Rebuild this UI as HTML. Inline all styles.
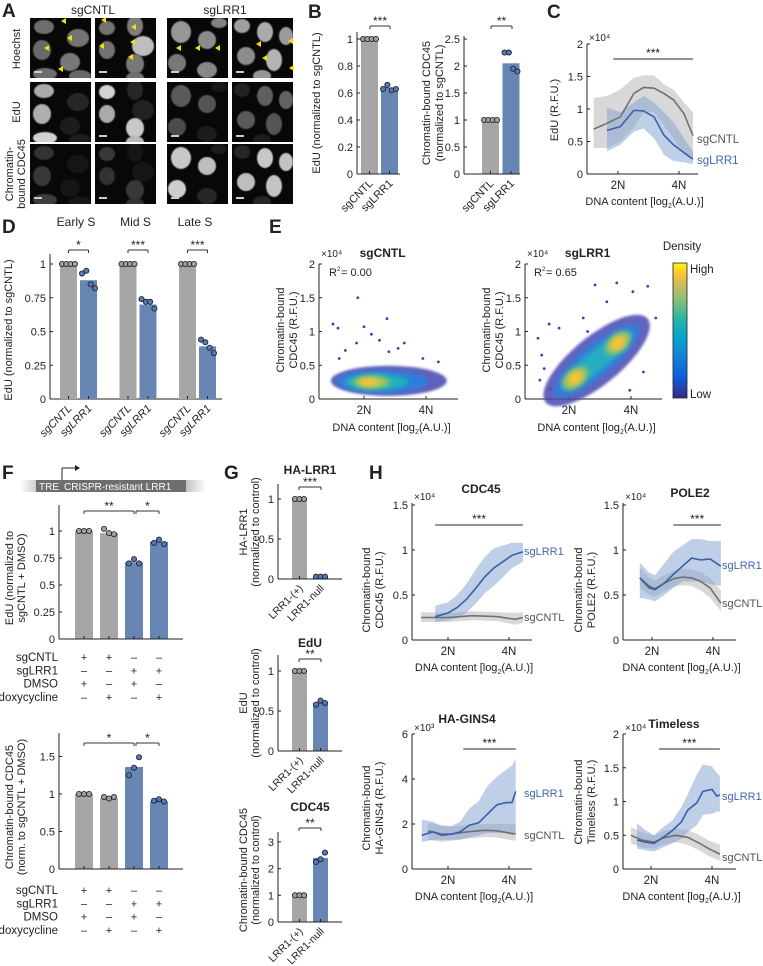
<!DOCTYPE html>
<html><head><meta charset="utf-8">
<style>
html,body{margin:0;padding:0;background:#fff;}
svg{display:block;font-family:"Liberation Sans",Arial,sans-serif;}
</style></head>
<body>
<svg id="fig" width="763" height="966" viewBox="0 0 763 966" xmlns="http://www.w3.org/2000/svg">
<defs>
<filter id="blur2" x="-50%" y="-50%" width="200%" height="200%"><feGaussianBlur stdDeviation="2.5"/></filter>
<filter id="blur4" x="-50%" y="-50%" width="200%" height="200%"><feGaussianBlur stdDeviation="4"/></filter>
<filter id="blur1" x="-50%" y="-50%" width="200%" height="200%"><feGaussianBlur stdDeviation="1.2"/></filter>
<filter id="blur05" x="-50%" y="-50%" width="200%" height="200%"><feGaussianBlur stdDeviation="0.6"/></filter>
<linearGradient id="parula" x1="0" y1="1" x2="0" y2="0">
<stop offset="0" stop-color="#352a87"/><stop offset="0.15" stop-color="#0f5cdd"/><stop offset="0.3" stop-color="#1481d6"/><stop offset="0.45" stop-color="#06a4ca"/><stop offset="0.6" stop-color="#2eb7a4"/><stop offset="0.72" stop-color="#87bf77"/><stop offset="0.85" stop-color="#d1bb59"/><stop offset="0.93" stop-color="#fec832"/><stop offset="1" stop-color="#f9fb0e"/>
</linearGradient>
<linearGradient id="treg" x1="0" x2="1"><stop offset="0" stop-color="#fff"/><stop offset="0.12" stop-color="#bbb"/><stop offset="0.88" stop-color="#bbb"/><stop offset="1" stop-color="#fff"/></linearGradient>
</defs>
</svg>
<script>
// ---------------- DATA ----------------
const bCats = ['sgCNTL','sgLRR1'];
const b1Vals = [1, 0.64];
const b1Dots = [[1,1,1,1],[0.63,0.66,0.62,0.63]];
const b1Ticks = [0,0.2,0.4,0.6,0.8,1];
const b2Vals = [1, 2.05];
const b2Dots = [[1,1,1,1],[2.25,2.25,1.95,1.9]];
const b2Ticks = [0,0.5,1,1.5,2,2.5];

const cX = [0.6,0.82,1.04,1.26,1.42,1.59,1.75,1.91,2.08,2.23];
const cGray = [0.69,0.78,0.88,1.24,1.33,1.32,1.24,1.14,0.93,0.59];
const cGrayHi = [1.17,1.2,1.3,1.48,1.52,1.52,1.38,1.3,1.1,0.95];
const cGrayLo = [0.4,0.4,0.5,0.72,0.95,0.95,0.75,0.55,0.3,0.22];
const cBX = [0.82,1.04,1.26,1.42,1.59,1.75,1.91,2.08,2.23];
const cBlue = [0.67,0.73,0.98,0.97,0.88,0.6,0.45,0.33,0.23];
const cBlueHi = [1.02,0.95,1.1,1.2,1.1,0.95,0.8,0.55,0.35];
const cBlueLo = [0.35,0.45,0.65,0.7,0.55,0.3,0.2,0.18,0.15];
const cTicks = [0,0.5,1,1.5,2];

const dGroups = ['Early S','Mid S','Late S'];
const dSig = ['*','***','***'];
const dVals = [[1,0.88],[1,0.70],[1,0.39]];
const dDots = [[[1,1,1,1],[0.93,0.95,0.85,0.82]],[[1,1,1,1],[0.74,0.72,0.72,0.67]],[[1,1,1,1],[0.44,0.42,0.38,0.34]]];
const dTicks = [0,0.25,0.5,0.75,1];

const e1Out = [[0.5,1.11],[0.58,1.05],[0.9,1.5],[1.0,1.07],[1.12,0.96],[1.37,1.19],[1.25,0.87],[1.65,0.83],[0.88,0.83],[0.7,0.72],[1.55,0.75],[1.95,0.6],[2.2,0.55],[0.6,0.6],[1.4,0.7]];
const e1Blob = [[1.4,0.27],[1.3,0.26],[1.2,0.25],[1.12,0.25],[1.08,0.25]];
const e2Out = [[0.5,0.9],[0.68,1.11],[0.84,1.05],[0.56,0.65],[1.23,1.2],[1.42,1.69],[1.77,1.72],[2.27,1.67],[2.03,1.59],[1.61,1.44],[0.53,0.28],[1.98,0.13],[0.6,0.45],[1.3,1.0],[2.4,1.2],[2.2,0.4],[0.7,0.15]];
const e2Blob1 = [1.1,0.31];
const e2Blob2 = [1.79,0.83];
const eTicks = [0,0.5,1,1.5,2];

const fCats = ['sgCNTL','sgLRR1','DMSO','doxycycline'];
const fSigns = [['+','+','–','–'],['–','–','+','+'],['+','–','+','–'],['–','+','–','+']];
const f1Vals = [1,0.98,0.71,0.9];
const f1Dots = [[1,1,1],[1.02,0.98,0.97],[0.7,0.74,0.7],[0.89,0.92,0.88]];
const f1Ticks = [0,0.25,0.5,0.75,1];
const f2Vals = [1,0.94,1.36,0.9];
const f2Dots = [[1,1,1],[0.96,0.94,0.96],[1.25,1.35,1.49],[0.91,0.93,0.9]];
const f2Ticks = [0,0.5,1,1.5];

const gCats = ['LRR1-(+)','LRR1-null'];
const g1Vals = [1,0.03]; const g1Dots = [[1,1,1],[0.03,0.03,0.03]]; const g1Ticks=[0,0.5,1];
const g2Vals = [1,0.6]; const g2Dots = [[1,1,1],[0.58,0.63,0.6]]; const g2Ticks=[0,0.5,1];
const g3Vals = [1,2.4]; const g3Dots = [[1,1,1],[2.25,2.35,2.6]]; const g3Ticks=[0,1,2,3];

const h1BX=[0.79,1.0,1.15,1.3,1.45,1.6,1.75,1.9,2.05,2.23];
const h1Blue=[0.26,0.3,0.36,0.45,0.57,0.7,0.8,0.87,0.94,0.98];
const h1BlueHi=[0.38,0.42,0.5,0.62,0.78,0.92,1.02,1.05,1.08,1.08];
const h1BlueLo=[0.2,0.22,0.24,0.3,0.4,0.52,0.6,0.7,0.8,0.87];
const h1GX=[0.56,1.0,1.4,1.8,2.1,2.23];
const h1Gray=[0.25,0.25,0.27,0.26,0.23,0.25];
const h1GrayHi=[0.31,0.3,0.32,0.31,0.3,0.31];
const h1GrayLo=[0.2,0.2,0.22,0.21,0.17,0.19];
const h1Ticks=[0,0.5,1,1.5];

const h2X=[0.8,0.95,1.05,1.2,1.35,1.5,1.65,1.8,1.95,2.13];
const h2Blue=[0.69,0.58,0.56,0.63,0.73,0.82,0.91,0.89,0.9,0.82];
const h2BlueHi=[0.86,0.75,0.72,0.85,0.98,1.05,1.12,1.12,1.1,1.1];
const h2BlueLo=[0.47,0.45,0.43,0.5,0.58,0.65,0.65,0.65,0.62,0.6];
const h2Gray=[0.69,0.6,0.57,0.63,0.68,0.7,0.69,0.65,0.58,0.41];
const h2GrayHi=[0.8,0.7,0.66,0.72,0.77,0.79,0.78,0.75,0.69,0.55];
const h2GrayLo=[0.58,0.5,0.48,0.54,0.59,0.61,0.6,0.55,0.47,0.32];
const h2Ticks=[0,0.5,1,1.5];

const h3BX=[0.57,0.75,0.9,1.05,1.2,1.35,1.5,1.65,1.8,1.95,2.05,2.11];
const h3Blue=[1.5,1.65,1.5,1.55,1.65,1.95,2.05,2.45,2.85,2.95,2.95,3.45];
const h3BlueHi=[2.2,2.1,1.9,1.9,2.1,2.7,3.0,3.7,4.1,4.4,4.6,4.9];
const h3BlueLo=[1.2,1.3,1.3,1.3,1.3,1.4,1.5,1.6,1.6,1.6,1.5,1.6];
const h3GX=[0.67,0.9,1.05,1.3,1.6,1.8,2.0,2.11];
const h3Gray=[1.7,1.55,1.55,1.65,1.72,1.7,1.6,1.55];
const h3GrayHi=[2.05,1.95,1.9,1.95,2.0,2.0,2.0,2.0];
const h3GrayLo=[1.3,1.2,1.25,1.35,1.42,1.4,1.3,1.25];
const h3Ticks=[0,2,4,6];

const h4BX=[0.77,0.9,1.05,1.2,1.35,1.5,1.6,1.75,1.85,2.0,2.08,2.13];
const h4Blue=[0.43,0.4,0.38,0.47,0.57,0.7,0.87,0.98,1.15,1.18,1.08,1.1];
const h4BlueHi=[0.68,0.58,0.5,0.62,0.72,0.92,1.1,1.4,1.55,1.52,1.42,1.38];
const h4BlueLo=[0.3,0.28,0.26,0.32,0.38,0.45,0.55,0.65,0.8,0.82,0.85,0.85];
const h4GX=[0.67,0.85,1.05,1.2,1.4,1.6,1.8,1.95,2.13];
const h4Gray=[0.5,0.43,0.4,0.46,0.5,0.47,0.38,0.3,0.22];
const h4GrayHi=[0.62,0.54,0.5,0.56,0.6,0.58,0.5,0.42,0.36];
const h4GrayLo=[0.38,0.32,0.3,0.36,0.4,0.36,0.27,0.19,0.12];
const h4Ticks=[0,0.5,1,1.5,2];

// ---------------- HELPERS ----------------
const NS='http://www.w3.org/2000/svg';
const svg=document.getElementById('fig');
const GRAYBAR='#a6a6a6', BLUEBAR='#6886b4', BLUELINE='#3a5fa8', GRAYLINE='#707070';
function mk(tag,attrs,parent){const e=document.createElementNS(NS,tag);for(const k in attrs)e.setAttribute(k,attrs[k]);(parent||svg).appendChild(e);return e;}
function T(x,y,s,size,opts){opts=opts||{};const e=mk('text',{x:x,y:y,'font-size':size,'text-anchor':opts.anchor||'start',fill:opts.fill||'#222','font-weight':opts.bold?'bold':'normal'},opts.parent);if(opts.rot!==undefined)e.setAttribute('transform','rotate('+opts.rot+' '+x+' '+y+')');if(opts.italic)e.setAttribute('font-style','italic');e.textContent=s;

return e;}
function L(x1,y1,x2,y2,stroke,w,name){const e=mk('line',{x1:x1,y1:y1,x2:x2,y2:y2,stroke:stroke||'#222','stroke-width':w||1});

return e;}
function panelLetter(x,y,s){T(x,y,s,19,{bold:true,name:'panel-label-'+s.toLowerCase()});}
function yAxis(ax,y0,top,ppu,ticks,name,fmt){
  L(ax,top,ax,y0,'#222',1,name+'-y-axis');
  ticks.forEach(t=>{const y=y0-t*ppu;L(ax,y,ax+3,y,'#222',1,name+'-y-tick');T(ax-4,y+4,fmt?fmt(t):String(t),11,{anchor:'end',name:name+'-y-tick-label'});});
}
function bracket(x1,x2,y,s,name){
  L(x1,y,x2,y,'#333',1,name+'-bracket');L(x1,y,x1,y+3,'#333',1,name+'-bracket');L(x2,y,x2,y+3,'#333',1,name+'-bracket');
  T((x1+x2)/2,y-1,s,12,{anchor:'middle',name:name+'-significance'});
}
function dot(x,y,blue,name){const c=mk('circle',{cx:x,cy:y,r:2.6,fill:blue?'#5579b8':'#a0a0a0',stroke:'#1a1a1a','stroke-width':0.8});
}
function barChart(cfg){
  const sy=v=>cfg.y0-v*cfg.ppu;
  cfg.vals.forEach((v,i)=>{
    const cx=cfg.cx0+i*cfg.step;const blue=cfg.blue[i];
    const r=mk('rect',{x:cx-cfg.w/2,y:sy(v),width:cfg.w,height:cfg.y0-sy(v),fill:blue?BLUEBAR:GRAYBAR});
    
    
    L(cx,cfg.y0,cx,cfg.y0-3,'#222',1,cfg.name+'-x-tick');
    const ds=cfg.dots[i];const n=ds.length;
    ds.forEach((d,j)=>{dot(cx+(j-(n-1)/2)*cfg.dsp,sy(d),blue,cfg.name+'-dot');});
  });
  L(cfg.ax,cfg.y0,cfg.right,cfg.y0,'#222',1,cfg.name+'-x-axis');
  yAxis(cfg.ax,cfg.y0,cfg.top,cfg.ppu,cfg.ticks,cfg.name,cfg.fmt);
  if(cfg.cats){cfg.cats.forEach((c,i)=>{const cx=cfg.cx0+i*cfg.step;T(cx+4,cfg.y0+10,c,cfg.catSize||11,{anchor:'end',rot:-45,italic:cfg.italic,name:cfg.name+'-x-label'});});}
  return sy;
}
function bandPath(xs,hi,lo,sx,sy){let d='';xs.forEach((x,i)=>{d+=(i?'L':'M')+sx(x).toFixed(1)+','+sy(hi[i]).toFixed(1);});for(let i=xs.length-1;i>=0;i--)d+='L'+sx(xs[i]).toFixed(1)+','+sy(lo[i]).toFixed(1);return d+'Z';}
function linePath(xs,ys,sx,sy){return xs.map((x,i)=>(i?'L':'M')+sx(x).toFixed(1)+','+sy(ys[i]).toFixed(1)).join('');}
function xTitle(x,y,name){
  const xt=T(x,y,'DNA content [log',11,{anchor:'middle',name:name+'-x-axis-title'});
  const ts=document.createElementNS(NS,'tspan');ts.setAttribute('font-size','7');ts.setAttribute('dy','3');ts.textContent='2';xt.appendChild(ts);
  const ts2=document.createElementNS(NS,'tspan');ts2.setAttribute('dy','-3');ts2.textContent='(A.U.)]';xt.appendChild(ts2);
}
function lineChart(cfg){
  const sx=u=>cfg.n2+(u-1)*cfg.upx, sy=v=>cfg.y0-v*cfg.ppu;
  const gb=mk('path',{d:bandPath(cfg.gx,cfg.ghi,cfg.glo,sx,sy),fill:'#b8b8b8','fill-opacity':0.55});
  
  
  const bb=mk('path',{d:bandPath(cfg.bx,cfg.bhi,cfg.blo,sx,sy),fill:'#7f9fd0','fill-opacity':0.5});
  
  
  const gl=mk('path',{d:linePath(cfg.gx,cfg.g,sx,sy),fill:'none',stroke:GRAYLINE,'stroke-width':1.6});
  
  
  const bl=mk('path',{d:linePath(cfg.bx,cfg.b,sx,sy),fill:'none',stroke:BLUELINE,'stroke-width':1.6});
  
  
  L(cfg.ax,cfg.y0,cfg.right,cfg.y0,'#222',1,cfg.name+'-x-axis');
  [1,2].forEach((u,i)=>{L(sx(u),cfg.y0,sx(u),cfg.y0-3,'#222',1,cfg.name+'-x-tick');T(sx(u),cfg.y0+15,['2N','4N'][i],11.5,{anchor:'middle',name:cfg.name+'-x-tick-label'});});
  yAxis(cfg.ax,cfg.y0,cfg.top,cfg.ppu,cfg.ticks,cfg.name);
  xTitle((cfg.ax+cfg.right)/2+2,cfg.y0+31,cfg.name);
  if(cfg.exp)T(cfg.ax+2,cfg.top-3,cfg.exp,10,{name:cfg.name+'-exponent'});
  if(cfg.sig){L(sx(cfg.sig[0]),cfg.sigY,sx(cfg.sig[1]),cfg.sigY,'#555',1.2,cfg.name+'-significance-bar');T((sx(cfg.sig[0])+sx(cfg.sig[1]))/2,cfg.sigY-2,'***',12,{anchor:'middle',name:cfg.name+'-significance'});}
  T(cfg.lblX,cfg.lblB,'sgLRR1',cfg.lblSize||11.5,{fill:'#3f66b0',name:cfg.name+'-legend-sglrr1'});
  T(cfg.lblX,cfg.lblG,'sgCNTL',cfg.lblSize||11.5,{fill:'#555',name:cfg.name+'-legend-sgcntl'});
  return {sx,sy};
}

// ---------------- PANEL A ----------------
panelLetter(2,17,'A');
T(93,14,'sgCNTL',12,{anchor:'middle',name:'a-sgcntl-header'});
T(225,14,'sgLRR1',12,{anchor:'middle',name:'a-sglrr1-header'});
T(20,49,'Hoechst',11,{anchor:'middle',rot:-90,name:'a-row-hoechst'});
T(20,112,'EdU',11,{anchor:'middle',rot:-90,name:'a-row-edu'});
T(13,174,'Chromatin-',11,{anchor:'middle',rot:-90,name:'a-row-cdc45'});
T(25,174,'bound CDC45',11,{anchor:'middle',rot:-90,name:'a-row-cdc45'});
const tileX=[30,95,167,232], tileY=[18,82,144];
const nuclei=[
 [[14,9,10,7],[48,20,11,9],[12,32,9,10],[40,44,10,9],[15,56,12,6],[50,58,11,6]],
 [[12,10,8,7],[40,8,8,10],[48,28,11,10],[12,32,8,9],[40,46,9,10],[40,60,9,6]],
 [[14,14,10,11],[40,22,9,9],[10,45,9,9],[40,52,10,8],[52,5,8,5]],
 [[10,8,8,7],[33,14,8,10],[54,18,7,9],[14,38,9,9],[42,42,8,11],[30,58,9,6]]];
const bright=[[[110,115,105,120,110,105],[115,125,190,115,120,110],[150,140,120,135,130],[160,170,155,140,180,150]],
 [[170,40,175,30,210,30],[210,40,35,170,200,185],[90,85,75,30,20],[35,95,100,90,85,30]],
 [[50,25,55,25,60,25],[55,25,25,50,55,50],[200,190,205,40,30],[40,200,195,190,195,40]]];
tileY.forEach((ty,r)=>tileX.forEach((tx,c)=>{
  const g=mk('g',{});
  
  
  mk('rect',{x:tx,y:ty,width:61,height:60,fill:'#080808'},g);
  const cp=mk('clipPath',{id:'cp'+r+c},g);mk('rect',{x:tx,y:ty,width:61,height:60},cp);
  const gg=mk('g',{'clip-path':'url(#cp'+r+c+')'},g);
  nuclei[c].forEach((n,k)=>{const b=bright[r][c][k];mk('ellipse',{cx:tx+n[0],cy:ty+n[1],rx:n[2],ry:n[3],fill:'rgb('+b+','+b+','+b+')',filter:'url(#blur05)'},gg);});
  mk('rect',{x:tx+4,y:ty+53,width:8,height:2,fill:'#ccc'},g);
}));
const arrows=[[61,21],[67,38],[44,48],[58,69],[101,20],[131,27],[99,46],[130,42],[128,57],[176,48],[195,48],[215,48],[256,44],[262,58],[288,41],[289,68]];
arrows.forEach(a=>{const p=mk('polygon',{points:(a[0])+','+(a[1])+' '+(a[0]+5)+','+(a[1]-3)+' '+(a[0]+5)+','+(a[1]+3),fill:'#f5e100'});
});

// ---------------- PANEL B ----------------
panelLetter(308,18,'B');
barChart({name:'b-edu',vals:b1Vals,dots:b1Dots,blue:[0,1],cx0:369.5,step:20,w:17,dsp:4.3,ax:357,right:400,y0:174,top:32,ppu:135,ticks:b1Ticks,cats:bCats});
bracket(370,390,26,'***','b-edu');
T(320,103,'EdU (normalized to sgCNTL)',11,{anchor:'middle',rot:-90,name:'b-edu-y-axis-title'});
barChart({name:'b-cdc45',vals:b2Vals,dots:b2Dots,blue:[0,1],cx0:490.5,step:20.5,w:17,dsp:4.3,ax:464,right:520,y0:174,top:36,ppu:54,ticks:b2Ticks,cats:bCats});
bracket(491,512,26,'**','b-cdc45');
T(430,103,'Chromatin-bound CDC45',11,{anchor:'middle',rot:-90,name:'b-cdc45-y-axis-title'});
T(443,103,'(normalized to sgCNTL)',11,{anchor:'middle',rot:-90,name:'b-cdc45-y-axis-title'});

// ---------------- PANEL C ----------------
panelLetter(547,18,'C');
lineChart({name:'c-edu',n2:618,upx:61,y0:174,ppu:65,ax:587,right:698,top:44,ticks:cTicks,
 gx:cX,g:cGray,ghi:cGrayHi,glo:cGrayLo,bx:cBX,b:cBlue,bhi:cBlueHi,blo:cBlueLo,
 exp:'×10⁴',sig:[0.92,2.23],sigY:59,lblX:697,lblB:164,lblG:143});
T(558,110,'EdU (R.F.U.)',11,{anchor:'middle',rot:-90,name:'c-y-axis-title'});

// ---------------- PANEL D ----------------
panelLetter(2,233,'D');
dGroups.forEach((g,i)=>{T(76+i*59.5,226,g,12,{anchor:'middle',name:'d-group-title'});});
L(50,399,222,399,'#222',1,'d-x-axis');
yAxis(50,399,254,135,dTicks,'d-edu');
dVals.forEach((pair,gi)=>{
  barChart({name:'d-'+dGroups[gi].toLowerCase().replace(' ','-'),vals:pair,dots:dDots[gi],blue:[0,1],cx0:68.5+gi*59.5,step:20,w:17,dsp:4.3,ax:50,right:50,y0:399,top:399,ppu:135,ticks:[],cats:bCats,italic:true});
  bracket(68.5+gi*59.5,88.5+gi*59.5,250,dSig[gi],'d-'+gi);
});
T(12,330,'EdU (normalized to sgCNTL)',11,{anchor:'middle',rot:-90,name:'d-y-axis-title'});

// ---------------- PANEL E ----------------
panelLetter(269,233,'E');
function scatterAxes(name,ax,n2,right,title){
  const sx=u=>n2+(u-1)*62, sy=v=>399-v*67.5;
  L(ax,399,right,399,'#222',1,name+'-x-axis');
  [1,2].forEach((u,i)=>{L(sx(u),399,sx(u),396,'#222',1,name+'-x-tick');T(sx(u),414,['2N','4N'][i],11.5,{anchor:'middle',name:name+'-x-tick-label'});});
  yAxis(ax,399,264,67.5,eTicks,name);
  T(ax+2,257,'×10⁴',10,{name:name+'-exponent'});
  T(sx(1.3),257,title,12,{anchor:'middle',bold:true,name:name+'-title'});
  xTitle((ax+right)/2+3,431,name);
  return {sx,sy};
}
const E1=scatterAxes('e-sgcntl',319,364,458,'sgCNTL');
const e1cols=['#4444ae','#2a7fdc','#22b3b8','#a6c659','#f4c23a'];
const e1rx=[58,46,32,18,10], e1ry=[15,11,8,6,4];
e1Out.forEach(p=>{const c=mk('circle',{cx:E1.sx(p[0]),cy:E1.sy(p[1]),r:1.4,fill:'#3d3db5'});
});
e1Blob.forEach((b,i)=>{const e=mk('ellipse',{cx:E1.sx(b[0]),cy:E1.sy(b[1]),rx:e1rx[i],ry:e1ry[i],fill:e1cols[i],'fill-opacity':i?1:0.85,filter:i?'url(#blur2)':'url(#blur1)'});
});
T(329,276,'R',11,{name:'e-sgcntl-r2'});T(337,271,'2',6,{name:'e-sgcntl-r2'});T(341,276,'= 0.00',11,{name:'e-sgcntl-r2'});
T(284,330,'Chromatin-bound',11,{anchor:'middle',rot:-90,name:'e-sgcntl-y-axis-title'});
T(297,330,'CDC45 (R.F.U.)',11,{anchor:'middle',rot:-90,name:'e-sgcntl-y-axis-title'});

const E2=scatterAxes('e-sglrr1',525,569,662,'sgLRR1');
e2Out.forEach(p=>{const c=mk('circle',{cx:E2.sx(p[0]),cy:E2.sy(p[1]),r:1.4,fill:'#3d3db5'});
});
const mid=[(e2Blob1[0]+e2Blob2[0])/2,(e2Blob1[1]+e2Blob2[1])/2];
const ang=Math.atan2(E2.sy(e2Blob2[1])-E2.sy(e2Blob1[1]),E2.sx(e2Blob2[0])-E2.sx(e2Blob1[0]))*180/Math.PI;
[[66,24,'#4848b2','url(#blur1)',0.85],[54,16,'#2f7fda','url(#blur2)',1],[44,10,'#28aec0','url(#blur2)',1]].forEach(s=>{
  const cx=E2.sx(mid[0]),cy=E2.sy(mid[1]);
  const e=mk('ellipse',{cx:cx,cy:cy,rx:s[0],ry:s[1],fill:s[2],'fill-opacity':s[4],filter:s[3],transform:'rotate('+ang+' '+cx+' '+cy+')'});
  
  
});
[e2Blob1,e2Blob2].forEach(b=>{const cx=E2.sx(b[0]),cy=E2.sy(b[1]);
  [[15,9,'#8cc467'],[9,6,'#e6bf45'],[5,3.5,'#f8c832']].forEach(s=>{const e=mk('ellipse',{cx:cx,cy:cy,rx:s[0],ry:s[1],fill:s[2],filter:'url(#blur2)',transform:'rotate('+ang+' '+cx+' '+cy+')'});
  });});
T(534,276,'R',11,{name:'e-sglrr1-r2'});T(542,271,'2',6,{name:'e-sglrr1-r2'});T(546,276,'= 0.65',11,{name:'e-sglrr1-r2'});
T(490,330,'Chromatin-bound',11,{anchor:'middle',rot:-90,name:'e-sglrr1-y-axis-title'});
T(503,330,'CDC45 (R.F.U.)',11,{anchor:'middle',rot:-90,name:'e-sglrr1-y-axis-title'});
const cb=mk('rect',{x:673,y:263,width:14,height:135,fill:'url(#parula)',stroke:'#222','stroke-width':0.8});


T(690,273,'High',11.5,{name:'colorbar-high'});T(690,398,'Low',11.5,{name:'colorbar-low'});
T(682,250,'Density',11.5,{anchor:'middle',name:'colorbar-title'});

// ---------------- PANEL F ----------------
panelLetter(2,479,'F');
const tb=mk('rect',{x:20,y:480,width:186,height:12,fill:'url(#treg)'});

const tb2=mk('rect',{x:36,y:480,width:150,height:12,fill:'#6e6e6e'});

L(62,480,62,468,'#222',1,'f-promoter-arrow');L(62,468,77,468,'#222',1,'f-promoter-arrow');
const ah=mk('polygon',{points:'80,468 75,465 75,471',fill:'#222'});

T(39,490,'TRE',10,{fill:'#fff',name:'f-tre-label'});T(64,490,'CRISPR-resistant LRR1',10,{fill:'#fff',name:'f-construct-label'});
function fChart(name,vals,dots,ticks,y0,top,ppu,rowY,brY,brs,ylab){
  barChart({name:name,vals:vals,dots:dots,blue:[0,0,1,1],cx0:84,step:25,w:18,dsp:5,ax:59,right:183,y0:y0,top:top,ppu:ppu,ticks:ticks});
  brs.forEach(b=>bracket(b[0],b[1],brY,b[2],name));
  fCats.forEach((c,i)=>{T(58,rowY+i*13.3,c,11.5,{anchor:'end',name:name+'-row-'+c});fSigns[i].forEach((s,j)=>T(84+j*25,rowY+i*13.3,s,11,{anchor:'middle',name:name+'-sign'}));});
  T(13,(y0+top)/2+6,ylab[0],11,{anchor:'middle',rot:-90,name:name+'-y-axis-title'});
  T(25,(y0+top)/2+6,ylab[1],11,{anchor:'middle',rot:-90,name:name+'-y-axis-title'});
}
fChart('f-edu',f1Vals,f1Dots,f1Ticks,639,505,108,661,511,[[84,134,'**'],[136,159,'*']],['EdU (normalized to','sgCNTL + DMSO)']);
fChart('f-cdc45',f2Vals,f2Dots,f2Ticks,869,733,75,894,743,[[84,134,'*'],[136,159,'*']],['Chromatin-bound CDC45','(norm. to sgCNTL + DMSO)']);

// ---------------- PANEL G ----------------
panelLetter(224,479,'G');
function gChart(name,title,vals,dots,ticks,y0,top,ppu,tY,brY,sig,yl,ylc){
  barChart({name:name,vals:vals,dots:dots,blue:[0,1],cx0:299.5,step:21,w:15,dsp:4.5,ax:278,right:342,y0:y0,top:top,ppu:ppu,ticks:ticks,cats:gCats,catSize:10.5});
  T(310,tY,title,12,{anchor:'middle',bold:true,name:name+'-title'});
  bracket(299,321,brY,sig,name);
  T(247,ylc,yl,11,{anchor:'middle',rot:-90,name:name+'-y-axis-title'});
  T(259,ylc,'(normalized to control)',11,{anchor:'middle',rot:-90,name:name+'-y-axis-title'});
}
gChart('g-ha-lrr1','HA-LRR1',g1Vals,g1Dots,g1Ticks,579,484,80,474,487,'***','HA-LRR1',532);
gChart('g-edu','EdU',g2Vals,g2Dots,g2Ticks,751,655,80,647,659,'**','EdU',703);
gChart('g-cdc45','CDC45',g3Vals,g3Dots,g3Ticks,922,832,26.7,811,828,'**','Chromatin-bound CDC45',870);

// ---------------- PANEL H ----------------
panelLetter(369,479,'H');
lineChart({name:'h-cdc45',n2:448,upx:61,y0:640,ppu:90,ax:412,right:532,top:503,ticks:h1Ticks,
 gx:h1GX,g:h1Gray,ghi:h1GrayHi,glo:h1GrayLo,bx:h1BX,b:h1Blue,bhi:h1BlueHi,blo:h1BlueLo,
 exp:'×10⁴',sig:[0.79,2.23],sigY:525,lblX:524,lblB:555,lblG:621,lblSize:11});
T(481,493,'CDC45',12,{anchor:'middle',bold:true,name:'h-cdc45-title'});
T(370,590,'Chromatin-bound',11,{anchor:'middle',rot:-90,name:'h-cdc45-y-axis-title'});
T(383,590,'CDC45 (R.F.U.)',11,{anchor:'middle',rot:-90,name:'h-cdc45-y-axis-title'});

lineChart({name:'h-pole2',n2:652,upx:61,y0:640,ppu:90,ax:623,right:736,top:503,ticks:h2Ticks,
 gx:h2X,g:h2Gray,ghi:h2GrayHi,glo:h2GrayLo,bx:h2X,b:h2Blue,bhi:h2BlueHi,blo:h2BlueLo,
 exp:'×10⁴',sig:[1.35,2.13],sigY:525,lblX:722,lblB:569,lblG:607,lblSize:11});
T(690,497,'POLE2',12,{anchor:'middle',bold:true,name:'h-pole2-title'});
T(582,590,'Chromatin-bound',11,{anchor:'middle',rot:-90,name:'h-pole2-y-axis-title'});
T(595,590,'POLE2 (R.F.U.)',11,{anchor:'middle',rot:-90,name:'h-pole2-y-axis-title'});

lineChart({name:'h-gins4',n2:448,upx:61,y0:869,ppu:22.5,ax:412,right:532,top:734,ticks:h3Ticks,
 gx:h3GX,g:h3Gray,ghi:h3GrayHi,glo:h3GrayLo,bx:h3BX,b:h3Blue,bhi:h3BlueHi,blo:h3BlueLo,
 exp:'×10³',sig:[1.25,2.11],sigY:749,lblX:524,lblB:797,lblG:839,lblSize:11});
T(467,723,'HA-GINS4',12,{anchor:'middle',bold:true,name:'h-gins4-title'});
T(370,808,'Chromatin-bound',11,{anchor:'middle',rot:-90,name:'h-gins4-y-axis-title'});
T(383,808,'HA-GINS4 (R.F.U.)',11,{anchor:'middle',rot:-90,name:'h-gins4-y-axis-title'});

lineChart({name:'h-timeless',n2:651,upx:61,y0:869,ppu:67.5,ax:623,right:736,top:734,ticks:h4Ticks,
 gx:h4GX,g:h4Gray,ghi:h4GrayHi,glo:h4GrayLo,bx:h4BX,b:h4Blue,bhi:h4BlueHi,blo:h4BlueLo,
 exp:'×10⁴',sig:[1.13,2.13],sigY:749,lblX:722,lblB:800,lblG:861,lblSize:11});
T(674,728,'Timeless',12,{anchor:'middle',bold:true,name:'h-timeless-title'});
T(582,802,'Chromatin-bound',11,{anchor:'middle',rot:-90,name:'h-timeless-y-axis-title'});
T(595,802,'Timeless (R.F.U.)',11,{anchor:'middle',rot:-90,name:'h-timeless-y-axis-title'});
</script>
</body></html>
